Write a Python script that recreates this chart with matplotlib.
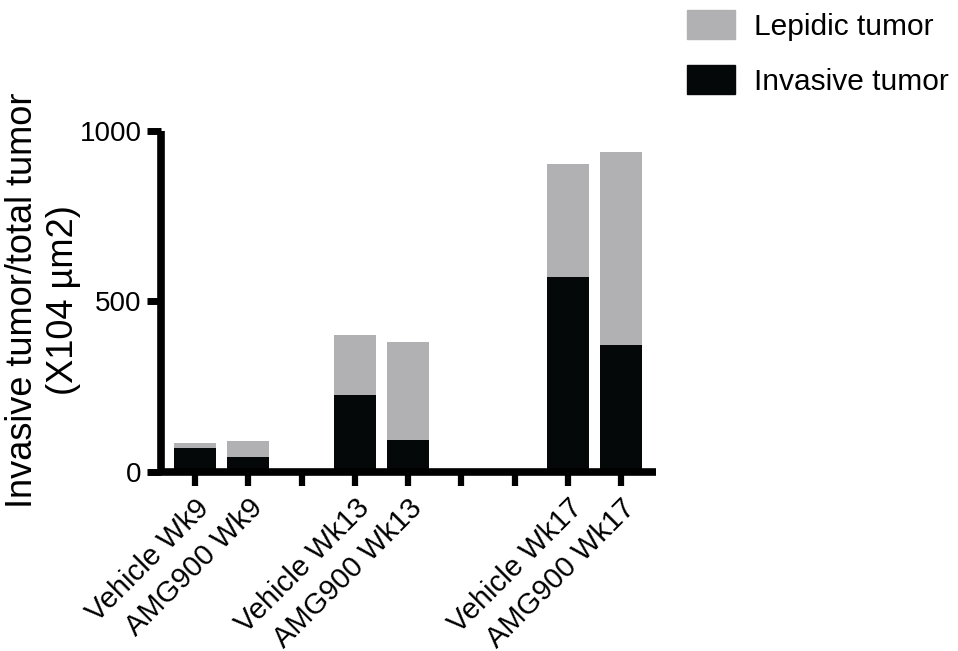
import matplotlib.pyplot as plt
from matplotlib.patches import Patch

plt.rcParams['font.family'] = ['Liberation Sans', 'DejaVu Sans']

# groups with empty spacer slots between weeks
categories = ['Vehicle Wk9', 'AMG900 Wk9', '', 'Vehicle Wk13', 'AMG900 Wk13',
              '', '', 'Vehicle Wk17', 'AMG900 Wk17']
total_tumor = [85, 91, 0, 400, 379, 0, 0, 903, 938]
invasive_tumor = [68, 44, 0, 226, 94, 0, 0, 571, 371]

gray = '#b1b1b3'
black = '#050808'

fig = plt.figure(figsize=(9.58, 6.51), dpi=100)
ax = fig.add_axes([0.168, 0.2757, 0.517, 0.523])

x = list(range(len(categories)))
lepidic = [t - i for t, i in zip(total_tumor, invasive_tumor)]
ax.bar(x, invasive_tumor, width=0.79, color=black, zorder=2)
ax.bar(x, lepidic, bottom=invasive_tumor, width=0.79, color=gray, zorder=2)

ax.set_xlim(-0.64, 8.66)
ax.set_ylim(0, 1000)
ax.set_yticks([0, 500, 1000])
ax.set_xticks(x)
ax.set_xticklabels(categories, rotation=45, ha='right', rotation_mode='anchor',
                   fontsize=21)
ax.tick_params(axis='y', labelsize=20, length=10, width=5, pad=4)
ax.tick_params(axis='x', length=10, width=4.5, pad=6)

for side in ['top', 'right']:
    ax.spines[side].set_visible(False)
for side in ['left', 'bottom']:
    ax.spines[side].set_linewidth(5.5)
    ax.spines[side].set_color('black')
    ax.spines[side].set_capstyle('butt')

fig.text(0.045, 0.539, 'Invasive tumor/total tumor\n(X104 µm2)', rotation=90,
         ha='center', va='center', fontsize=26, multialignment='center',
         linespacing=1.2)

handles = [Patch(color=gray, label='Lepidic tumor'),
           Patch(color=black, label='Invasive tumor')]
fig.legend(handles=handles, loc='upper left', bbox_to_anchor=(0.707, 1.0),
           frameon=False, fontsize=21.5, handlelength=1.6, handleheight=1.12,
           handletextpad=0.65, labelspacing=0.82, borderpad=0.33,
           borderaxespad=0)

fig.savefig('out.png', dpi=100)
